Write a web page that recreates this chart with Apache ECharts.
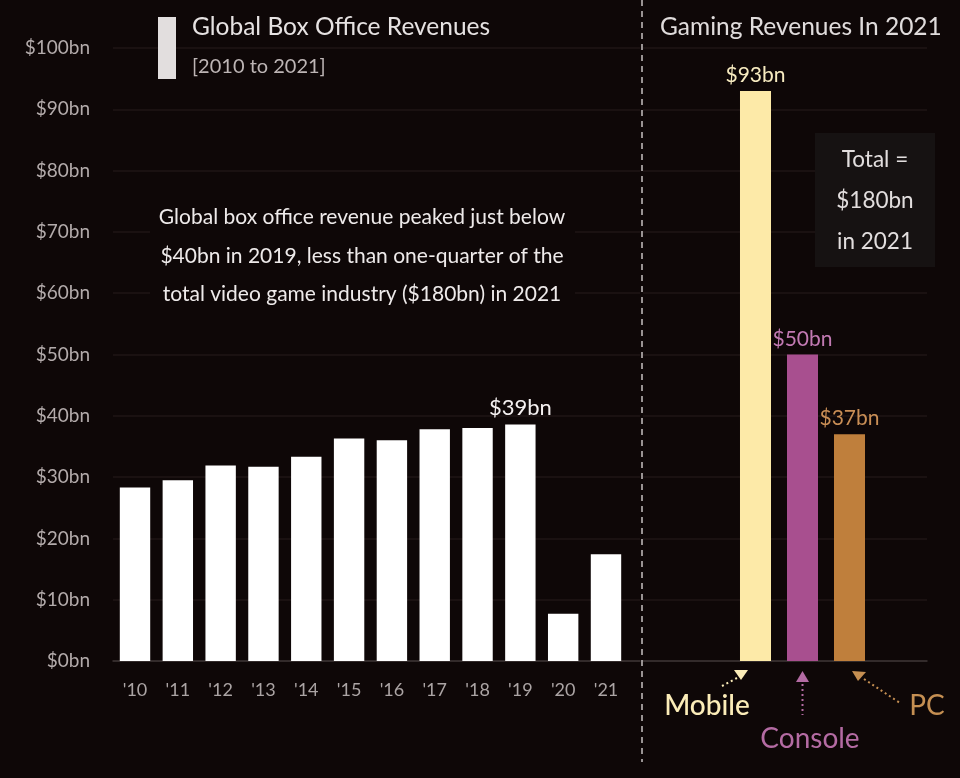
<!DOCTYPE html>
<html>
<head>
<meta charset="utf-8">
<script src="https://cdn.jsdelivr.net/npm/echarts@6/dist/echarts.min.js"></script>
<style>
html,body{margin:0;padding:0;background:#0e0707;}
#chart{width:960px;height:778px;}
</style>
</head>
<body>
<div id="chart"></div>
<script>
// ---- data ----
var years = ["'10","'11","'12","'13","'14","'15","'16","'17","'18","'19","'20","'21"];
var boxOffice = [28.3, 29.5, 31.9, 31.7, 33.3, 36.3, 36.0, 37.8, 38.0, 38.6, 7.7, 17.4];
var boxOfficeLabels = ["", "", "", "", "", "", "", "", "", "$39bn", "", ""];
var gamingCats = ["Mobile", "Console", "PC"];
var gamingValues = [93, 50, 37];
var gamingLabels = ["$93bn", "$50bn", "$37bn"];
var gamingColors = ["#fdeaa8", "#a84f8f", "#bf7f3c"];
var gamingLabelColors = ["#f7ebc0", "#c27ab3", "#c98e55"];
var yTicks = [0, 10, 20, 30, 40, 50, 60, 70, 80, 90, 100];

var FONT = "Lato";
var BG = '#0e0707';
var chart = echarts.init(document.getElementById('chart'), null, {renderer: 'canvas'});

var gridTop = 48, gridBottom = 117;
var option = {
  backgroundColor: BG,
  animation: false,
  textStyle: {fontFamily: FONT},
  grid: [
    {left: 113, right: 320, top: gridTop, bottom: gridBottom},
    {left: 113.6, right: 332.6, top: gridTop, bottom: gridBottom},
    {left: 643, right: 33, top: gridTop, bottom: gridBottom},
    {left: 732, right: 87, top: gridTop, bottom: gridBottom}
  ],
  xAxis: [
    {gridIndex: 0, type: 'value', min: 0, max: 1, axisLine: {show: true, onZero: false, lineStyle: {color: '#3c3434', width: 1.5}},
     axisLabel: {show: false}, axisTick: {show: false}, splitLine: {show: false}},
    {gridIndex: 1, type: 'category', data: years, axisLine: {show: false}, axisTick: {show: false},
     axisLabel: {color: '#aba4a4', fontSize: 18, fontFamily: FONT, margin: 20}},
    {gridIndex: 2, type: 'value', min: 0, max: 1, axisLine: {show: true, onZero: false, lineStyle: {color: '#3c3434', width: 1.5}},
     axisLabel: {show: false}, axisTick: {show: false}, splitLine: {show: false}},
    {gridIndex: 3, type: 'category', data: gamingCats, axisLine: {show: false}, axisTick: {show: false},
     axisLabel: {show: false}}
  ],
  yAxis: [
    {gridIndex: 0, type: 'value', min: yTicks[0], max: yTicks[yTicks.length-1], interval: 10,
     axisLine: {show: false}, axisTick: {show: false},
     axisLabel: {color: '#b3abab', fontSize: 19, fontFamily: FONT, margin: 23, formatter: function(v){return '$' + v + 'bn';}},
     splitLine: {show: true, lineStyle: {color: '#1f1616', width: 1.5}}},
    {gridIndex: 1, type: 'value', min: 0, max: 100, show: false},
    {gridIndex: 2, type: 'value', min: 0, max: 100, interval: 10,
     axisLine: {show: false}, axisTick: {show: false}, axisLabel: {show: false},
     splitLine: {show: true, lineStyle: {color: '#1f1616', width: 1.5}}},
    {gridIndex: 3, type: 'value', min: 0, max: 100, show: false}
  ],
  series: [
    {type: 'bar', xAxisIndex: 1, yAxisIndex: 1, barWidth: '71%',
     itemStyle: {color: '#ffffff'},
     data: boxOffice.map(function(v, i){
       return {value: v, label: {show: !!boxOfficeLabels[i], formatter: boxOfficeLabels[i], position: 'top',
         distance: 5, color: '#f4f0f0', fontSize: 22, fontFamily: FONT}};
     })},
    {type: 'bar', xAxisIndex: 3, yAxisIndex: 3, barWidth: '66%',
     data: gamingValues.map(function(v, i){
       return {value: v, itemStyle: {color: gamingColors[i]},
         label: {show: true, formatter: gamingLabels[i], position: 'top', distance: 5,
           color: gamingLabelColors[i], fontSize: 21, fontFamily: FONT}};
     })}
  ],
  graphic: [
    // divider
    {type: 'line', z: 100, shape: {x1: 642, y1: 0, x2: 642, y2: 762},
     style: {stroke: '#c8c2c2', lineWidth: 1.5, lineDash: [6, 5]}},
    // legend swatch and titles
    {type: 'rect', z: 100, shape: {x: 158, y: 17, width: 18, height: 62}, style: {fill: '#e2dede'}},
    {type: 'text', z: 100, left: 192, top: 15, style: {text: 'Global Box Office Revenues', fill: '#e6e2e2', font: '24.5px ' + FONT}},
    {type: 'text', z: 100, left: 192, top: 57, style: {text: '[2010 to 2021]', fill: '#bdb5b5', font: '20px ' + FONT}},
    {type: 'text', z: 100, left: 660, top: 15, style: {text: 'Gaming Revenues In 2021', fill: '#e0dcdc', font: '24.5px ' + FONT}},
    // annotation (background hides gridlines behind text)
    {type: 'rect', z: 99, shape: {x: 150, y: 200, width: 425, height: 112}, style: {fill: BG}},
    {type: 'text', z: 100, x: 362, y: 217, style: {text: 'Global box office revenue peaked just below', fill: '#eeeaea', font: '21px ' + FONT, align: 'center', verticalAlign: 'middle'}},
    {type: 'text', z: 100, x: 362, y: 256, style: {text: '$40bn in 2019, less than one-quarter of the', fill: '#eeeaea', font: '21px ' + FONT, align: 'center', verticalAlign: 'middle'}},
    {type: 'text', z: 100, x: 362, y: 294, style: {text: 'total video game industry ($180bn) in 2021', fill: '#eeeaea', font: '21px ' + FONT, align: 'center', verticalAlign: 'middle'}},
    // total box
    {type: 'rect', z: 100, shape: {x: 815, y: 133, width: 120, height: 134}, style: {fill: '#161212'}},
    {type: 'text', z: 101, x: 875, y: 160, style: {text: 'Total =', fill: '#e2dede', font: '22.5px ' + FONT, align: 'center', verticalAlign: 'middle'}},
    {type: 'text', z: 101, x: 875, y: 201, style: {text: '$180bn', fill: '#e2dede', font: '22.5px ' + FONT, align: 'center', verticalAlign: 'middle'}},
    {type: 'text', z: 101, x: 875, y: 242, style: {text: 'in 2021', fill: '#e2dede', font: '22.5px ' + FONT, align: 'center', verticalAlign: 'middle'}},
    // category labels + arrows
    {type: 'text', z: 100, x: 707, y: 706, style: {text: 'Mobile', fill: '#fbecb8', font: '500 28px ' + FONT, align: 'center', verticalAlign: 'middle'}},
    {type: 'text', z: 100, x: 810, y: 739, style: {text: 'Console', fill: '#b46ba3', font: '28px ' + FONT, align: 'center', verticalAlign: 'middle'}},
    {type: 'text', z: 100, x: 927, y: 706, style: {text: 'PC', fill: '#c58f52', font: '28px ' + FONT, align: 'center', verticalAlign: 'middle'}},
    {type: 'polygon', z: 100, shape: {points: [[734, 670], [748, 670], [741, 680]]}, style: {fill: '#fbecb8'}},
    {type: 'line', z: 100, shape: {x1: 722, y1: 686, x2: 737, y2: 678}, style: {stroke: '#fbecb8', lineWidth: 2, lineDash: [2, 3]}},
    {type: 'polygon', z: 100, shape: {points: [[796, 682], [809, 682], [802.5, 671]]}, style: {fill: '#b46ba3'}},
    {type: 'line', z: 100, shape: {x1: 802.5, y1: 684, x2: 802.5, y2: 715}, style: {stroke: '#b46ba3', lineWidth: 2, lineDash: [2, 3]}},
    {type: 'polygon', z: 100, shape: {points: [[852, 671], [866, 672], [858, 681]]}, style: {fill: '#c58f52'}},
    {type: 'line', z: 100, shape: {x1: 864, y1: 679, x2: 900, y2: 703}, style: {stroke: '#c58f52', lineWidth: 2, lineDash: [2, 3]}}
  ]
};
chart.setOption(option);
</script>
</body>
</html>
